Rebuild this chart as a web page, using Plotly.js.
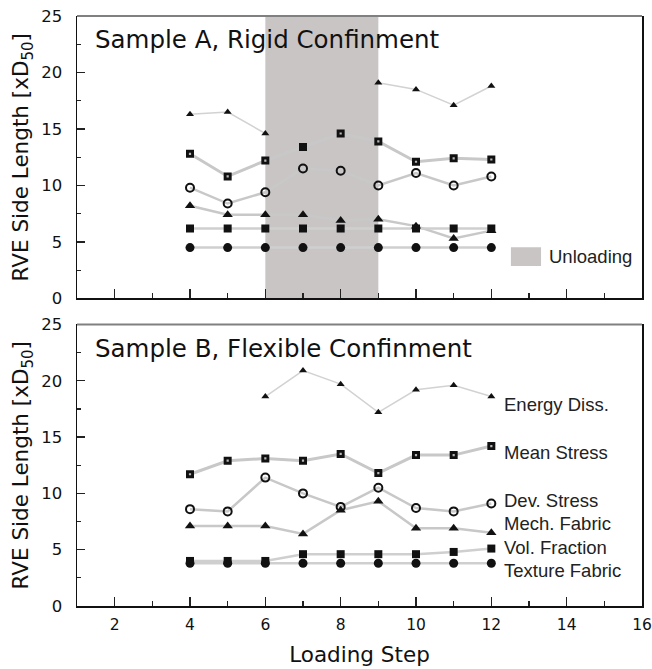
<!DOCTYPE html>
<html>
<head>
<meta charset="utf-8">
<script src="https://cdn.plot.ly/plotly-3.0.1.min.js"></script>
<style>html,body{margin:0;padding:0;background:#fff;}#chart{width:652px;height:669px;}</style>
</head>
<body>
<div id="chart"></div>
<script>
// ---- data ----
const steps = [4, 5, 6, 7, 8, 9, 10, 11, 12];
const seriesNames = ["Energy Diss.", "Mean Stress", "Dev. Stress", "Mech. Fabric", "Vol. Fraction", "Texture Fabric"];

// Sample A, Rigid Confinement
const A_energy = [16.3, 16.5, 14.6, null, null, 19.1, 18.5, 17.1, 18.8];
const A_mean   = [12.8, 10.8, 12.2, 13.4, 14.6, 13.9, 12.1, 12.4, 12.3];
const A_dev    = [9.8, 8.4, 9.4, 11.5, 11.3, 10.0, 11.1, 10.0, 10.8];
const A_mech   = [8.2, 7.4, 7.4, 7.4, 6.9, 7.0, 6.4, 5.3, 6.0];
const A_vol    = [6.2, 6.2, 6.2, 6.2, 6.2, 6.2, 6.2, 6.2, 6.2];
const A_tex    = [4.5, 4.5, 4.5, 4.5, 4.5, 4.5, 4.5, 4.5, 4.5];

// Sample B, Flexible Confinement
const B_energy = [null, null, 18.6, 20.9, 19.7, 17.2, 19.2, 19.6, 18.6];
const B_mean   = [11.7, 12.9, 13.1, 12.9, 13.5, 11.8, 13.4, 13.4, 14.2];
const B_dev    = [8.6, 8.4, 11.4, 10.0, 8.8, 10.5, 8.7, 8.4, 9.1];
const B_mech   = [7.1, 7.1, 7.1, 6.4, 8.5, 9.3, 6.9, 6.9, 6.5];
const B_vol    = [4.0, 4.0, 4.0, 4.6, 4.6, 4.6, 4.6, 4.8, 5.1];
const B_tex    = [3.8, 3.8, 3.8, 3.8, 3.8, 3.8, 3.8, 3.8, 3.8];

const unloadingRange = [6, 9];
const xTicks = [2, 4, 6, 8, 10, 12, 14, 16];
const yTicks = [0, 5, 10, 15, 20, 25];

// ---- styles ----
const styles = [
  {symbol: "triangle-up", size: 7, lw: 1.5, lc: "#d2d2d2", open: false},
  {symbol: "square", size: 8, lw: 3, lc: "#c8c8c8", open: false, dot: true},
  {symbol: "circle-open", size: 8, lw: 2.5, lc: "#c8c8c8", open: true},
  {symbol: "triangle-up", size: 9, lw: 2.5, lc: "#c8c8c8", open: false},
  {symbol: "square", size: 8, lw: 2.5, lc: "#cfcfcf", open: false},
  {symbol: "circle", size: 9, lw: 2.5, lc: "#cfcfcf", open: false}
];

function panelTraces(sets, xa, ya, noDotIdx) {
  const lines = [], marks = [];
  sets.forEach((ys, i) => {
    const s = styles[i];
    lines.push({x: steps, y: ys, xaxis: xa, yaxis: ya, type: "scatter", mode: "lines",
      connectgaps: false, line: {color: s.lc, width: s.lw}, hoverinfo: "skip", name: seriesNames[i]});
    marks.push({x: steps, y: ys, xaxis: xa, yaxis: ya, type: "scatter", mode: "markers",
      marker: {symbol: s.symbol, size: s.size, color: "#111",
        line: {color: "#111", width: s.open ? 2 : 0}}, name: seriesNames[i]});
    if (s.dot) {
      marks.push({x: steps, y: ys, xaxis: xa, yaxis: ya, type: "scatter", mode: "markers",
        marker: {symbol: "square", color: "#fff",
          size: steps.map((v, k) => (noDotIdx.indexOf(k) >= 0 ? 0 : 2.2)), line: {width: 0}},
        hoverinfo: "skip", name: seriesNames[i]});
    }
  });
  return lines.concat(marks);
}

const data = panelTraces([A_energy, A_mean, A_dev, A_mech, A_vol, A_tex], "x", "y", [3])
  .concat(panelTraces([B_energy, B_mean, B_dev, B_mech, B_vol, B_tex], "x2", "y2", []));

const axisFont = {family: "DejaVu Sans, Verdana, sans-serif", size: 16.5, color: "#111"};

function xAxis(showLabels, anchor) {
  return {range: [1, 16], anchor: anchor, showgrid: false, zeroline: false,
    showline: true, linecolor: "#111", linewidth: 1.5, mirror: false,
    tickmode: "array", tickvals: xTicks, ticktext: xTicks.map(String),
    showticklabels: showLabels, ticks: "inside", ticklen: 9, tickwidth: 1.2, tickcolor: "#222",
    minor: {dtick: 1, tick0: 1, ticks: "inside", ticklen: 5, tickwidth: 1.2, tickcolor: "#222"},
    ticklabelstandoff: 4,
    tickfont: {family: "DejaVu Sans, Verdana, sans-serif", size: 15.5, color: "#111"}};
}
function yAxis(domain, anchor) {
  return {range: [0, 25], domain: domain, anchor: anchor, showgrid: false, zeroline: false,
    showline: true, linecolor: "#111", linewidth: 1.5, mirror: true,
    tickmode: "array", tickvals: yTicks, ticktext: yTicks.map(String),
    ticks: "inside", ticklen: 8, tickwidth: 1.2, tickcolor: "#222",
    minor: {dtick: 2.5, tick0: 0, ticks: "inside", ticklen: 4, tickwidth: 1.2, tickcolor: "#222"},
    ticklabelstandoff: 10, tickfont: axisFont,
    title: {text: "RVE Side Length [xD<sub>50</sub>]", standoff: 6,
      font: {family: "DejaVu Sans, Verdana, sans-serif", size: 21.5, color: "#111"}}};
}

const layout = {
  width: 652, height: 669,
  margin: {l: 77, r: 10, t: 16, b: 63},
  paper_bgcolor: "#fff", plot_bgcolor: "#fff",
  showlegend: false,
  xaxis: xAxis(false, "y"),
  yaxis: yAxis([0.5213, 1], "x"),
  xaxis2: Object.assign(xAxis(true, "y2"), {
    title: {text: "Loading Step", standoff: 14,
      font: {family: "DejaVu Sans, Verdana, sans-serif", size: 21.5, color: "#111"}}}),
  yaxis2: yAxis([0, 0.4772], "x2"),
  shapes: [
    {type: "rect", xref: "x", yref: "y", x0: unloadingRange[0], x1: unloadingRange[1], y0: 0, y1: 25,
      fillcolor: "#c9c5c5", line: {width: 0}, layer: "below"},
    {type: "rect", xref: "x", yref: "y", x0: 12.52, x1: 13.32, y0: 2.86, y1: 4.54,
      fillcolor: "#c9c5c5", line: {width: 0}, layer: "below"},
    {type: "line", xref: "x domain", yref: "y domain", x0: 0, x1: 1, y0: 1, y1: 1,
      line: {color: "#808080", width: 2}},
    {type: "line", xref: "x2 domain", yref: "y2 domain", x0: 0, x1: 1, y0: 1, y1: 1,
      line: {color: "#808080", width: 2}}
  ],
  annotations: [
    {xref: "x", yref: "y", x: 1.42, y: 22.9, xanchor: "left", yanchor: "middle", showarrow: false,
      text: "Sample A, Rigid Confinment",
      font: {family: "DejaVu Sans, Verdana, sans-serif", size: 24.5, color: "#111"}},
    {xref: "x2", yref: "y2", x: 1.42, y: 22.9, xanchor: "left", yanchor: "middle", showarrow: false,
      text: "Sample B, Flexible Confinment",
      font: {family: "DejaVu Sans, Verdana, sans-serif", size: 24.5, color: "#111"}},
    {xref: "x", yref: "y", x: 13.48, y: 3.7, xanchor: "left", yanchor: "middle", showarrow: false,
      text: "Unloading", font: {family: "Liberation Sans, Arial, sans-serif", size: 18.5, color: "#222"}}
  ]
};

const labelY = [17.9, 13.67, 9.4, 7.3, 5.2, 3.15];
seriesNames.forEach((n, i) => {
  layout.annotations.push({xref: "x2", yref: "y2", x: 12.29, y: labelY[i], xanchor: "left", yanchor: "middle",
    showarrow: false, text: n, font: {family: "Liberation Sans, Arial, sans-serif", size: 18.5, color: "#222"}});
});

Plotly.newPlot("chart", data, layout, {displayModeBar: false, staticPlot: true});
</script>
</body>
</html>
